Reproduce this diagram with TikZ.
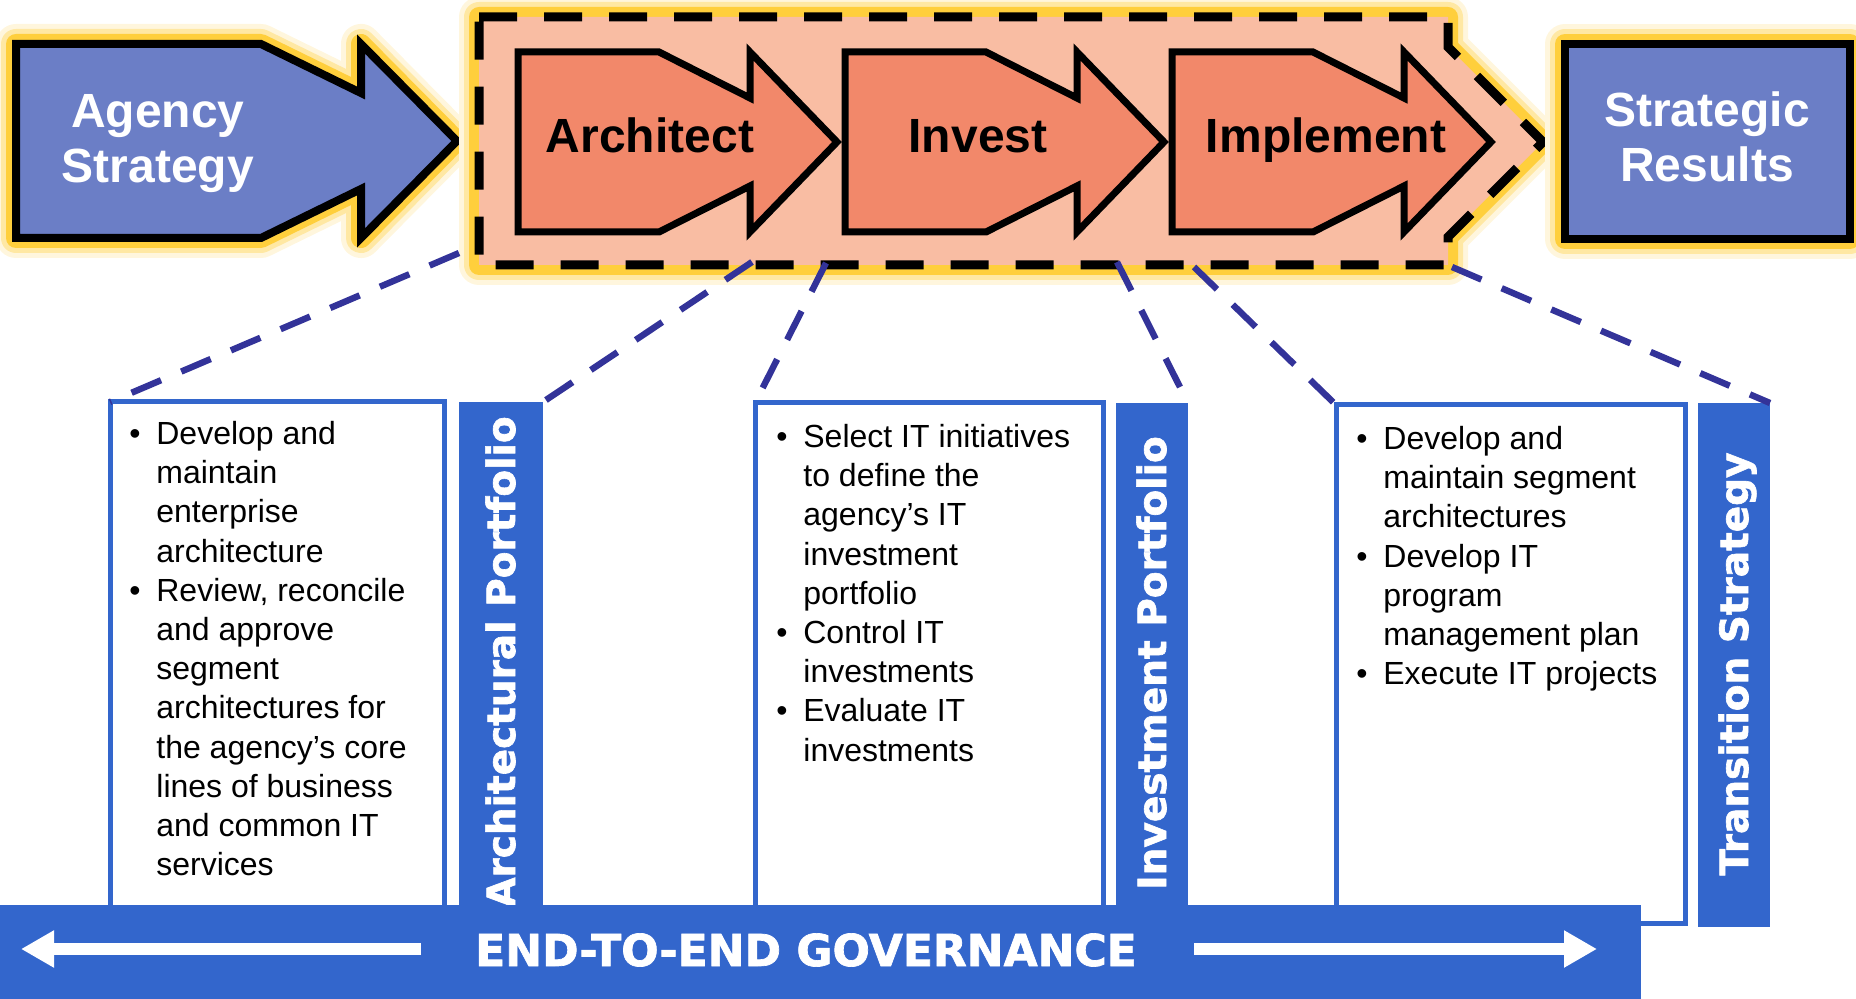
\documentclass[tikz,border=0pt]{standalone}
\usepackage{fontspec}
\setmainfont{Liberation Sans}
\newfontfamily\heavy{DejaVu Sans}[BoldFeatures={FakeBold=1.6}]
\usetikzlibrary{arrows.meta}
\definecolor{peri}{HTML}{6B7EC6}
\definecolor{salmon}{HTML}{F9BDA3}
\definecolor{orng}{HTML}{F2886A}
\definecolor{gold}{HTML}{FFC61A}
\definecolor{bandblue}{HTML}{3366CC}
\definecolor{dashblue}{HTML}{333399}
\tikzset{
  glowing/.style={
    preaction={draw=gold!15,solid,line width=20pt,line join=round},
    preaction={draw=gold!40,solid,line width=15pt,line join=round},
    preaction={draw=gold!85,solid,line width=10pt,line join=round}},
  bigarrow/.style={fill=peri,draw=black,line width=4pt,line join=miter},
  subarrow/.style={fill=orng,draw=black,line width=3.5pt,line join=miter},
  frame/.style={fill=salmon,draw=black,line width=4.5pt,dash pattern=on 19pt off 13.5pt},
  conn/.style={draw=dashblue,line width=3.2pt,dash pattern=on 16pt off 11pt},
  listbox/.style={draw=bandblue,line width=2.5pt,fill=white,anchor=north west,inner sep=0pt,outer sep=0pt},
  bar/.style={fill=bandblue,draw=none,anchor=north west,inner sep=0pt,outer sep=0pt},
  bartext/.style={text=white,font=\heavy\bfseries\fontsize{19.5}{22}\selectfont,rotate=90,anchor=base,inner sep=0pt},
  toptext/.style={text=white,font=\bfseries\fontsize{24}{27.5}\selectfont,anchor=base,inner sep=0pt},
  steptext/.style={text=black,font=\bfseries\fontsize{24}{27.5}\selectfont,anchor=base,inner sep=0pt},
  listtext/.style={font=\fontsize{16}{19.6}\selectfont,anchor=north west,inner sep=0pt},
  bandarrow/.style={draw=white,line width=6pt,-{Triangle[length=16.5pt,width=17.5pt]}},
}
\newcommand\chevron[1]{%
  (#1,52) -- ++(141,0) -- ++(91,46) -- ++(0,-46) -- ++(87,90) -- ++(-87,90) -- ++(0,-46) -- ++(-91,46) -- ++(-141,0) -- cycle}
\begin{document}
\begin{tikzpicture}[x=0.5pt,y=-0.5pt]
\useasboundingbox (0,0) rectangle (1856,999);

% --- top row ---
\path[glowing,bigarrow] (16,44) -- (261,44) -- (361,93) -- (361,44) -- (457,141)
   -- (361,238) -- (361,189) -- (261,238) -- (16,238) -- cycle;
\node[toptext] (agency) at (158,128) {\begin{tabular}[t]{@{}c@{}}Agency\\Strategy\end{tabular}};

\path[glowing,frame] (479,17) -- (1448,17) -- (1448,47) -- (1543,142) -- (1448,237)
   -- (1448,265) -- (479,265) -- cycle;

\path[subarrow] \chevron{518};
\path[subarrow] \chevron{845};
\path[subarrow] \chevron{1172};
\node[steptext] (architect) at (650,153) {Architect};
\node[steptext] (invest) at (978,153) {Invest};
\node[steptext] (implement) at (1326,153) {Implement};

\path[glowing,bigarrow] (1565,44) rectangle (1850,239);
\node[toptext] (results) at (1707,127) {\begin{tabular}[t]{@{}c@{}}Strategic\\Results\end{tabular}};

% --- lower boxes ---
\node[listbox,minimum width=167pt,minimum height=259pt] (box1) at (110,402) {};
\node[bar,minimum width=42pt,minimum height=259pt] (bar1) at (459,402) {};
\node[listbox,minimum width=174pt,minimum height=258pt] (box2) at (755,403) {};
\node[bar,minimum width=36pt,minimum height=259pt] (bar2) at (1116,403) {};
\node[listbox,minimum width=174.5pt,minimum height=259pt] (box3) at (1336,405) {};
\node[bar,minimum width=36pt,minimum height=262pt] (bar3) at (1698,403) {};

\node[listtext] (t1) at (129,416.6) {\begin{tabular}{@{}p{13.5pt}@{}l@{}}
• & Develop and\\ & maintain\\ & enterprise\\ & architecture\\
• & Review, reconcile\\ & and approve\\ & segment\\ & architectures for\\
  & the agency’s core\\ & lines of business\\ & and common IT\\ & services
\end{tabular}};
\node[listtext] (t2) at (776,419.6) {\begin{tabular}{@{}p{13.5pt}@{}l@{}}
• & Select IT initiatives\\ & to define the\\ & agency’s IT\\ & investment\\ & portfolio\\
• & Control IT\\ & investments\\
• & Evaluate IT\\ & investments
\end{tabular}};
\node[listtext] (t3) at (1356,421.6) {\begin{tabular}{@{}p{13.5pt}@{}l@{}}
• & Develop and\\ & maintain segment\\ & architectures\\
• & Develop IT\\ & program\\ & management plan\\
• & Execute IT projects
\end{tabular}};

\node[bartext] (bt1) at (515,662) {Architectural Portfolio};
\node[bartext] (bt2) at (1166,663) {Investment Portfolio};
\node[bartext] (bt3) at (1748,664) {Transition Strategy};

% --- connectors ---
\coordinate (s1) at (459,253);
\coordinate (s2) at (752,262);
\coordinate (s3) at (826,263);
\coordinate (s4) at (1117,262);
\coordinate (s5) at (1194,267);
\coordinate (s6) at (1452,267);
\draw[conn] (s1) -- (box1.north west);
\draw[conn] (s2) -- (bar1.north east);
\draw[conn] (s3) -- (box2.north west);
\draw[conn] (s4) -- (bar2.north east);
\draw[conn] (s5) -- (box3.north west);
\draw[conn] (s6) -- (bar3.north east);

% --- governance band ---
\node[fill=bandblue,anchor=north west,minimum width=820.5pt,minimum height=47pt,inner sep=0pt,outer sep=0pt] (band) at (0,905) {};
\node[text=white,font=\heavy\bfseries\fontsize{22}{26}\selectfont,anchor=base,inner sep=0pt] (gov) at (806,966) {END-TO-END GOVERNANCE};
\coordinate (la) at (421,949);
\coordinate (lb) at (21,949);
\coordinate (ra) at (1194,949);
\coordinate (rb) at (1597,949);
\draw[bandarrow] (la) -- (lb);
\draw[bandarrow] (ra) -- (rb);
\end{tikzpicture}
\end{document}
